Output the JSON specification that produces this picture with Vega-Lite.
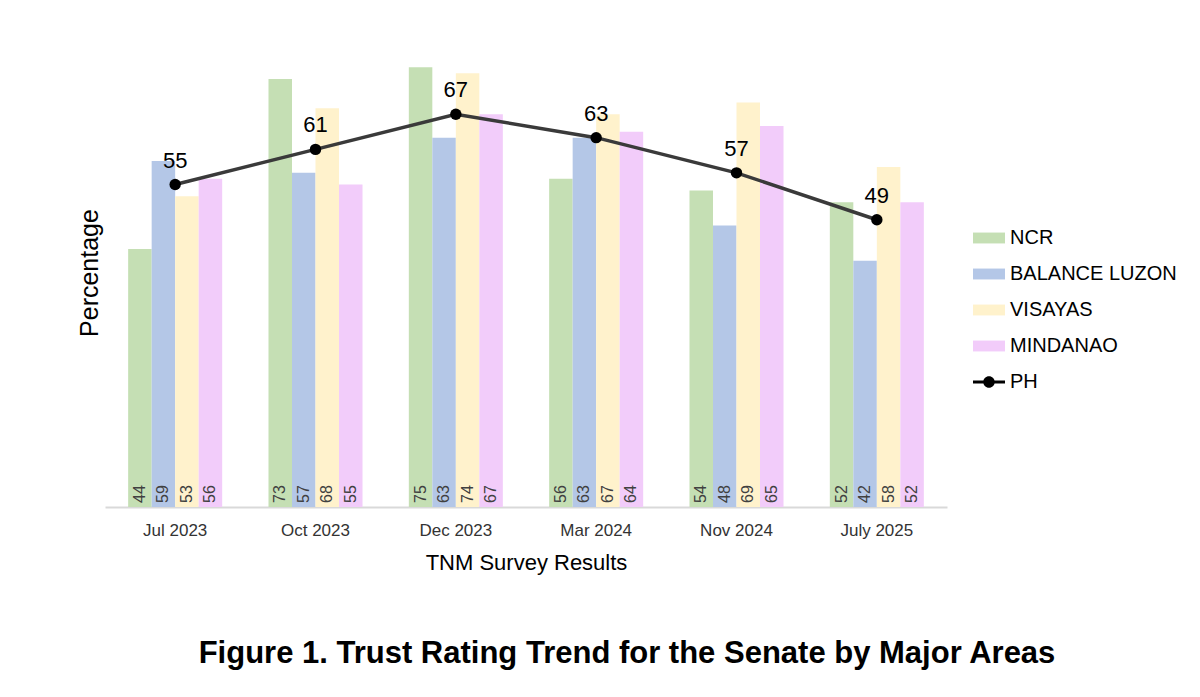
{
  "$schema": "https://vega.github.io/schema/vega-lite/v6.json",
  "background": "white",
  "autosize": "none",
  "width": 842,
  "height": 469,
  "padding": {"left": 105, "top": 38, "right": 253, "bottom": 190},
  "title": {
    "text": "Figure 1. Trust Rating Trend for the Senate by Major Areas",
    "orient": "bottom",
    "anchor": "middle",
    "frame": "bounds",
    "offset": 66,
    "font": "Liberation Sans",
    "fontSize": 31,
    "fontWeight": "bold",
    "color": "#000000"
  },
  "datasets": {
    "bars": [
      {"period": "Jul 2023", "region": "NCR", "value": 44},
      {"period": "Jul 2023", "region": "BALANCE LUZON", "value": 59},
      {"period": "Jul 2023", "region": "VISAYAS", "value": 53},
      {"period": "Jul 2023", "region": "MINDANAO", "value": 56},
      {"period": "Oct 2023", "region": "NCR", "value": 73},
      {"period": "Oct 2023", "region": "BALANCE LUZON", "value": 57},
      {"period": "Oct 2023", "region": "VISAYAS", "value": 68},
      {"period": "Oct 2023", "region": "MINDANAO", "value": 55},
      {"period": "Dec 2023", "region": "NCR", "value": 75},
      {"period": "Dec 2023", "region": "BALANCE LUZON", "value": 63},
      {"period": "Dec 2023", "region": "VISAYAS", "value": 74},
      {"period": "Dec 2023", "region": "MINDANAO", "value": 67},
      {"period": "Mar 2024", "region": "NCR", "value": 56},
      {"period": "Mar 2024", "region": "BALANCE LUZON", "value": 63},
      {"period": "Mar 2024", "region": "VISAYAS", "value": 67},
      {"period": "Mar 2024", "region": "MINDANAO", "value": 64},
      {"period": "Nov 2024", "region": "NCR", "value": 54},
      {"period": "Nov 2024", "region": "BALANCE LUZON", "value": 48},
      {"period": "Nov 2024", "region": "VISAYAS", "value": 69},
      {"period": "Nov 2024", "region": "MINDANAO", "value": 65},
      {"period": "July 2025", "region": "NCR", "value": 52},
      {"period": "July 2025", "region": "BALANCE LUZON", "value": 42},
      {"period": "July 2025", "region": "VISAYAS", "value": 58},
      {"period": "July 2025", "region": "MINDANAO", "value": 52}
    ],
    "ph": [
      {"period": "Jul 2023", "value": 55},
      {"period": "Oct 2023", "value": 61},
      {"period": "Dec 2023", "value": 67},
      {"period": "Mar 2024", "value": 63},
      {"period": "Nov 2024", "value": 57},
      {"period": "July 2025", "value": 49}
    ]
  },
  "encoding": {
    "x": {
      "field": "period",
      "type": "nominal",
      "scale": {
        "domain": ["Jul 2023", "Oct 2023", "Dec 2023", "Mar 2024", "Nov 2024", "July 2025"],
        "paddingInner": 0.33,
        "paddingOuter": 0.165
      },
      "axis": {
        "title": "TNM Survey Results",
        "titleFont": "Liberation Sans",
        "titleFontSize": 22,
        "titleFontWeight": "normal",
        "titleColor": "#000000",
        "titlePadding": 14,
        "labelAngle": 0,
        "labelFont": "Liberation Sans",
        "labelFontSize": 17,
        "labelColor": "#333333",
        "labelPadding": 15,
        "ticks": false,
        "domainColor": "#d9d9d9",
        "domainWidth": 2,
        "grid": false
      }
    },
    "y": {
      "field": "value",
      "type": "quantitative",
      "scale": {"domain": [0, 80]},
      "axis": {
        "title": "Percentage",
        "titleFont": "Liberation Sans",
        "titleFontSize": 25,
        "titleFontWeight": "normal",
        "titleColor": "#000000",
        "titlePadding": 3,
        "labels": false,
        "ticks": false,
        "domain": false,
        "grid": false
      }
    }
  },
  "layer": [
    {
      "data": {"name": "bars"},
      "mark": {"type": "bar"},
      "encoding": {
        "xOffset": {
          "field": "region",
          "type": "nominal",
          "scale": {"domain": ["NCR", "BALANCE LUZON", "VISAYAS", "MINDANAO"], "paddingInner": 0, "paddingOuter": 0}
        },
        "color": {
          "field": "region",
          "type": "nominal",
          "scale": {
            "domain": ["NCR", "BALANCE LUZON", "VISAYAS", "MINDANAO", "PH"],
            "range": ["#c5dfb4", "#b4c7e7", "#fff2cc", "#f2ccfa", "#000000"]
          },
          "legend": {
            "orient": "none",
            "legendX": 868,
            "legendY": 184,
            "title": null,
            "symbolSize": 1024,
            "symbolStrokeWidth": 0,
            "labelFont": "Liberation Sans",
            "labelFontSize": 20,
            "labelColor": "#000000",
            "labelOffset": 5,
            "labelLimit": 300,
            "rowPadding": 10,
            "encode": {
              "symbols": {
                "update": {
                  "shape": {"signal": "datum.value === 'PH' ? 'M-1,-0.1H1V0.1H-1Z M0.36,0A0.36,0.36 0 1 1 -0.36,0A0.36,0.36 0 1 1 0.36,0Z' : 'M-1,-0.34H1V0.34H-1Z'"},
                  "opacity": {"value": 1}
                }
              }
            }
          }
        }
      }
    },
    {
      "data": {"name": "bars"},
      "mark": {
        "type": "text",
        "angle": 270,
        "align": "left",
        "baseline": "middle",
        "dx": 4,
        "font": "Liberation Sans",
        "fontSize": 16,
        "color": "#404040"
      },
      "encoding": {
        "xOffset": {"field": "region", "type": "nominal"},
        "y": {"datum": 0},
        "text": {"field": "value", "type": "quantitative"}
      }
    },
    {
      "data": {"name": "ph"},
      "mark": {"type": "line", "color": "#3a3a3a", "strokeWidth": 3.5},
      "encoding": {}
    },
    {
      "data": {"name": "ph"},
      "mark": {"type": "point", "filled": true, "color": "#000000", "size": 130, "opacity": 1},
      "encoding": {}
    },
    {
      "data": {"name": "ph"},
      "mark": {
        "type": "text",
        "baseline": "bottom",
        "dy": -12,
        "font": "Liberation Sans",
        "fontSize": 22,
        "color": "#000000"
      },
      "encoding": {
        "text": {"field": "value", "type": "quantitative"}
      }
    }
  ],
  "config": {
    "view": {"stroke": null}
  }
}
